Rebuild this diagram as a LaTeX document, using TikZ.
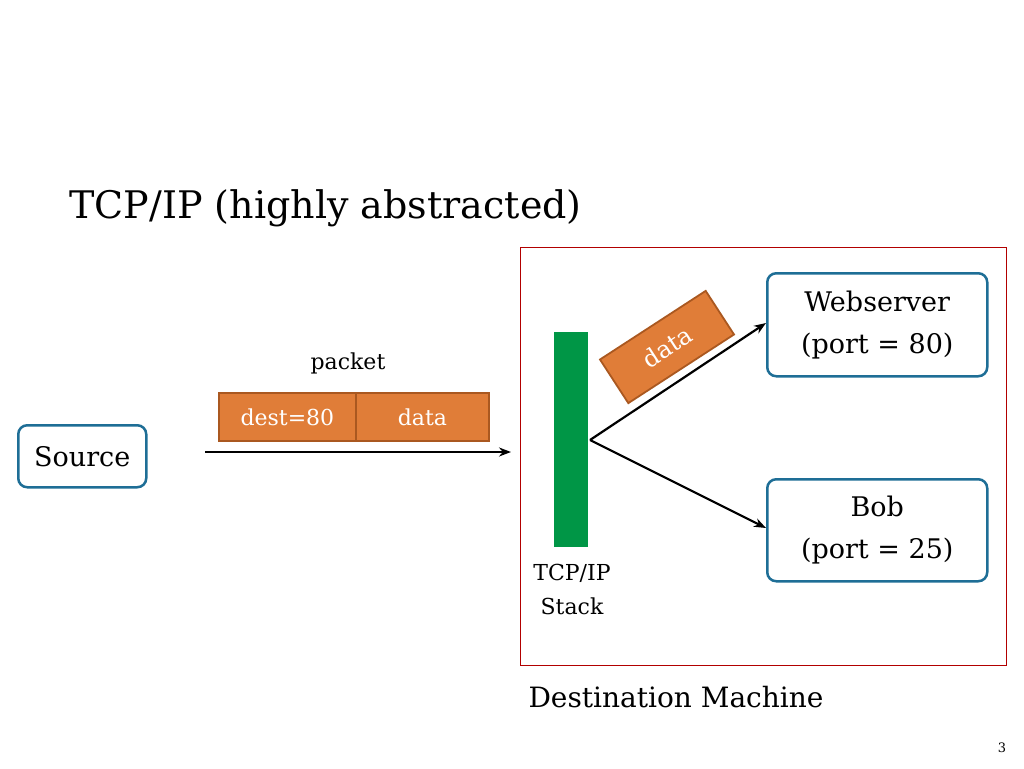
\documentclass[tikz,border=0pt]{standalone}
\usepackage{fontspec}
\usetikzlibrary{arrows.meta}
\setmainfont{DejaVu Serif}
\definecolor{org}{RGB}{224,125,56}
\definecolor{orgd}{RGB}{170,88,32}
\definecolor{bl}{RGB}{30,110,150}
\definecolor{gr}{RGB}{0,150,70}
\begin{document}
\begin{tikzpicture}[x=1pt,y=-1pt,
 bx/.style={draw=bl,line width=2.5pt,rounded corners=9pt,fill=white,align=center,font=\fontsize{27}{42}\selectfont},
 pk/.style={draw=orgd,line width=1.8pt,fill=org,text=white,font=\fontsize{22}{25}\selectfont,anchor=north west,inner sep=0pt},
 ar/.style={-{Stealth[length=12pt,width=9pt]},line width=2.2pt}]
\useasboundingbox (0,0) rectangle (1024,768);
\node[anchor=base west,font=\fontsize{38}{44}\selectfont] (title) at (66,218) {TCP/IP (highly abstracted)};
\node[draw=red!70!black,line width=1pt,minimum width=486pt,minimum height=418pt,anchor=north west,inner sep=0pt] (dm) at (520,247) {};
\node[font=\fontsize{28}{30}\selectfont] (dml) at (676,697) {Destination Machine};
\node[bx,minimum width=220pt,minimum height=103pt,anchor=north west] (web) at (766,272) {Webserver\\(port = 80)};
\node[bx,minimum width=220pt,minimum height=102pt,anchor=north west] (bob) at (766,478) {Bob\\(port = 25)};
\node[bx,minimum width=128pt,minimum height=62pt,anchor=north west,inner sep=0pt] (src) at (17,424) {Source};
\node[fill=gr,minimum width=34pt,minimum height=215pt,anchor=north west,inner sep=0pt] (stack) at (554,332) {};
\node[align=center,font=\fontsize{22}{34}\selectfont] (stl) at (572,589) {TCP/IP\\Stack};
\node[font=\fontsize{22}{25}\selectfont] (pl) at (348,363) {packet};
\node[pk,minimum width=137pt,minimum height=48pt] (dest) at (218,392) {dest=80};
\node[pk,minimum width=133pt,minimum height=48pt] (pd) at (355,392) {data};
\node[draw=orgd,line width=1.8pt,fill=org,text=white,font=\fontsize{24}{28}\selectfont,minimum width=126pt,minimum height=52pt,rotate=33] (rd) at (667,347) {data};
\coordinate (fan) at (590,440);
\coordinate (a0) at (205,452);
\coordinate (a1) at (511,452);
\draw[ar] (a0) -- (a1);
\draw[ar] (fan) -- (web.west|-0,323);
\draw[ar] (fan) -- (bob.west|-0,528);
\node[font=\fontsize{13}{15}\selectfont] (pg) at (1002,748) {3};
\end{tikzpicture}
\end{document}
